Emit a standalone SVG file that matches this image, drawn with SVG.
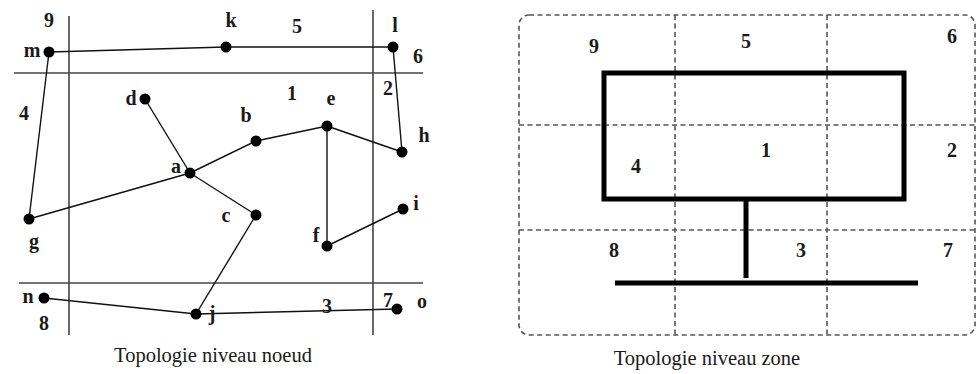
<svg xmlns="http://www.w3.org/2000/svg" width="976" height="374" viewBox="0 0 976 374">
  <style>
    .grid { stroke: #444; stroke-width: 1.6; fill: none; }
    .edge { stroke: #111; stroke-width: 1.4; fill: none; }
    .node circle { fill: #000; }
    text { font-family: "Liberation Serif", "Times New Roman", serif; fill: #1a1a1a; text-anchor: middle; }
    .lbl { font-size: 20px; font-weight: bold; }
    .cap { font-size: 20.5px; }
    .dash { stroke: #555; stroke-width: 1.6; stroke-dasharray: 5 3.5; fill: none; }
    .thick { stroke: #000; stroke-width: 5; fill: none; }
  </style>

  <!-- Node-level topology: zone boundaries -->
  <g id="zone-grid">
    <line class="grid" x1="69" y1="16" x2="69" y2="335"/>
    <line class="grid" x1="373" y1="10" x2="373" y2="335"/>
    <line class="grid" x1="14" y1="73" x2="423" y2="73"/>
    <line class="grid" x1="19" y1="283" x2="423" y2="283"/>
  </g>

  <!-- Node-level topology: links -->
  <g id="connectors">
    <line class="edge" x1="49" y1="52" x2="226" y2="47"/>
    <line class="edge" x1="226" y1="47" x2="393" y2="47"/>
    <line class="edge" x1="393" y1="47" x2="402" y2="152"/>
    <line class="edge" x1="402" y1="152" x2="327" y2="126"/>
    <line class="edge" x1="327" y1="126" x2="256" y2="141"/>
    <line class="edge" x1="256" y1="141" x2="190" y2="173"/>
    <line class="edge" x1="190" y1="173" x2="145" y2="99"/>
    <line class="edge" x1="190" y1="173" x2="29" y2="219"/>
    <line class="edge" x1="29" y1="219" x2="49" y2="52"/>
    <line class="edge" x1="190" y1="173" x2="256" y2="215"/>
    <line class="edge" x1="256" y1="215" x2="196" y2="314"/>
    <line class="edge" x1="327" y1="126" x2="327" y2="246"/>
    <line class="edge" x1="327" y1="246" x2="403" y2="209"/>
    <line class="edge" x1="44" y1="298" x2="196" y2="314"/>
    <line class="edge" x1="196" y1="314" x2="397" y2="309"/>
  </g>

  <!-- Node-level topology: nodes -->
  <g id="node-m" class="node"><circle cx="49" cy="52" r="5.5"/><text class="lbl" x="32" y="57">m</text></g>
  <g id="node-k" class="node"><circle cx="226" cy="47" r="5.5"/><text class="lbl" x="231" y="27">k</text></g>
  <g id="node-l" class="node"><circle cx="393" cy="47" r="5.5"/><text class="lbl" x="395" y="32">l</text></g>
  <g id="node-h" class="node"><circle cx="402" cy="152" r="5.5"/><text class="lbl" x="424" y="142">h</text></g>
  <g id="node-e" class="node"><circle cx="327" cy="126" r="5.5"/><text class="lbl" x="331" y="105">e</text></g>
  <g id="node-b" class="node"><circle cx="256" cy="141" r="5.5"/><text class="lbl" x="246" y="122">b</text></g>
  <g id="node-a" class="node"><circle cx="190" cy="173" r="5.5"/><text class="lbl" x="176" y="173">a</text></g>
  <g id="node-d" class="node"><circle cx="145" cy="99" r="5.5"/><text class="lbl" x="131" y="105">d</text></g>
  <g id="node-g" class="node"><circle cx="29" cy="219" r="5.5"/><text class="lbl" x="34" y="248">g</text></g>
  <g id="node-c" class="node"><circle cx="256" cy="215" r="5.5"/><text class="lbl" x="226" y="222">c</text></g>
  <g id="node-f" class="node"><circle cx="327" cy="246" r="5.5"/><text class="lbl" x="316" y="242">f</text></g>
  <g id="node-i" class="node"><circle cx="403" cy="209" r="5.5"/><text class="lbl" x="416" y="210">i</text></g>
  <g id="node-n" class="node"><circle cx="44" cy="298" r="5.5"/><text class="lbl" x="28" y="303">n</text></g>
  <g id="node-j" class="node"><circle cx="196" cy="314" r="5.5"/><text class="lbl" x="212" y="320">j</text></g>
  <g id="node-o" class="node"><circle cx="397" cy="309" r="5.5"/><text class="lbl" x="422" y="308">o</text></g>

  <!-- Node-level topology: zone numbers -->
  <g id="zone-numbers-left" class="lbl">
    <text x="49" y="27">9</text>
    <text x="297" y="33">5</text>
    <text x="418" y="63">6</text>
    <text x="24" y="120">4</text>
    <text x="292" y="100">1</text>
    <text x="388" y="95">2</text>
    <text x="44" y="330">8</text>
    <text x="327" y="313">3</text>
    <text x="388" y="307">7</text>
  </g>
  <text class="cap" x="213" y="362">Topologie niveau noeud</text>

  <!-- Zone-level topology: zone grid -->
  <g id="zone-frame">
    <rect class="dash" x="519" y="15" width="456" height="320" rx="10" ry="10"/>
    <line class="dash" x1="675" y1="15" x2="675" y2="335"/>
    <line class="dash" x1="827" y1="15" x2="827" y2="335"/>
    <line class="dash" x1="519" y1="125" x2="975" y2="125"/>
    <line class="dash" x1="519" y1="230" x2="975" y2="230"/>
  </g>

  <!-- Zone-level topology: aggregated links -->
  <g id="zone-links">
    <rect class="thick" x="604" y="73" width="300" height="126"/>
    <line class="thick" x1="746" y1="199" x2="746" y2="278"/>
    <line class="thick" x1="615" y1="283" x2="918" y2="283"/>
  </g>

  <g id="zone-numbers-right" class="lbl">
    <text x="594" y="53">9</text>
    <text x="746" y="48">5</text>
    <text x="952" y="43">6</text>
    <text x="766" y="157">1</text>
    <text x="636" y="173">4</text>
    <text x="952" y="157">2</text>
    <text x="614" y="257">8</text>
    <text x="801" y="257">3</text>
    <text x="948" y="257">7</text>
  </g>
  <text class="cap" x="707" y="365">Topologie niveau zone</text>
</svg>
